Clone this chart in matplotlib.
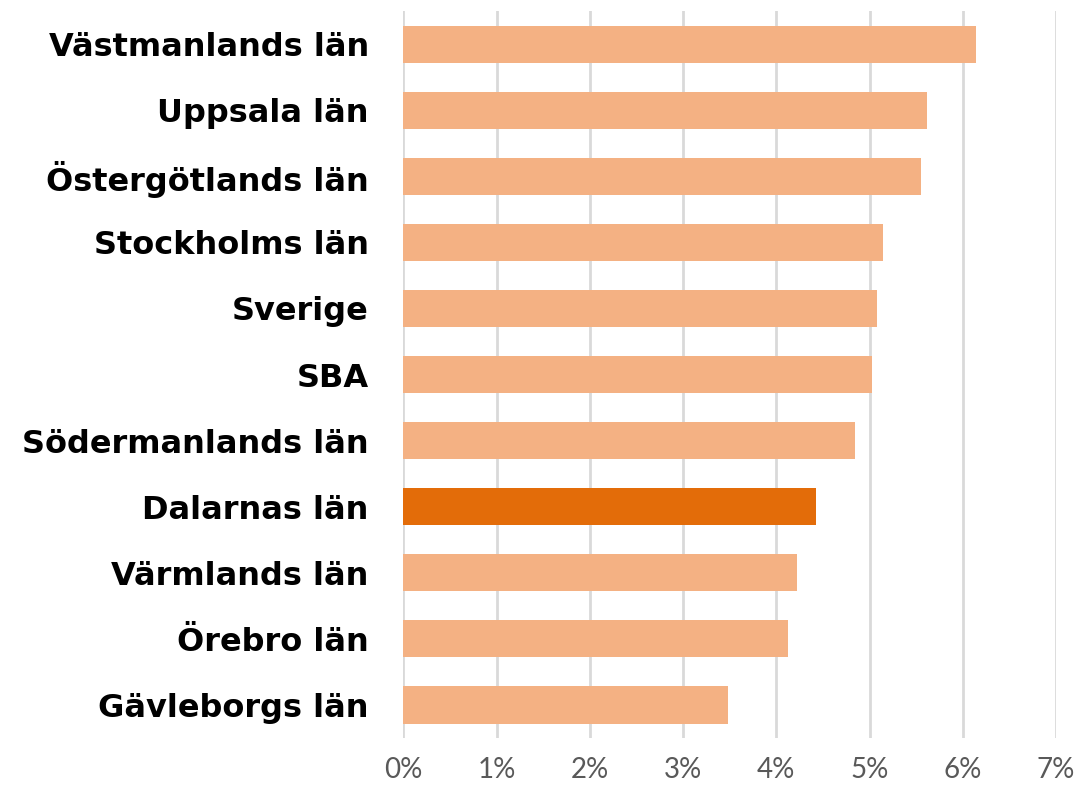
import numpy as np
from matplotlib import pyplot as plt

regions = ['Västmanlands län', 'Uppsala län', 'Östergötlands län', 'Stockholms län',
           'Sverige', 'SBA', 'Södermanlands län', 'Dalarnas län', 'Värmlands län',
           'Örebro län', 'Gävleborgs län']
values = [6.14, 5.62, 5.55, 5.14, 5.08, 5.03, 4.84, 4.43, 4.22, 4.13, 3.48]
highlight = 'Dalarnas län'
xticks = [0, 1, 2, 3, 4, 5, 6, 7]

LIGHT = '#F4B183'
DARK = '#E36C09'

fig = plt.figure(figsize=(10.78, 7.86), dpi=100)
ax = fig.add_axes([0.3743, 0.061, 0.6053, 0.925])

y = np.arange(len(regions))
colors = [DARK if r == highlight else LIGHT for r in regions]
ax.barh(y, values, height=0.56, color=colors, zorder=3)

ax.set_ylim(len(regions) - 0.5, -0.5)
ax.set_xlim(0, 7)
ax.set_xticks(xticks)
ax.set_xticklabels([f'{t}%' for t in xticks], fontsize=20, color='#595959',
                   family='Lato')
ax.set_yticks(y)
ax.set_yticklabels(regions, fontsize=23, fontweight='bold', color='black',
                   family='DejaVu Sans')
ax.tick_params(axis='both', length=0)
ax.tick_params(axis='x', pad=14)
ax.tick_params(axis='y', pad=25)

ax.grid(axis='x', color='#D9D9D9', linewidth=2, zorder=0)
for s in ax.spines.values():
    s.set_visible(False)

fig.savefig('out.png', dpi=100)
